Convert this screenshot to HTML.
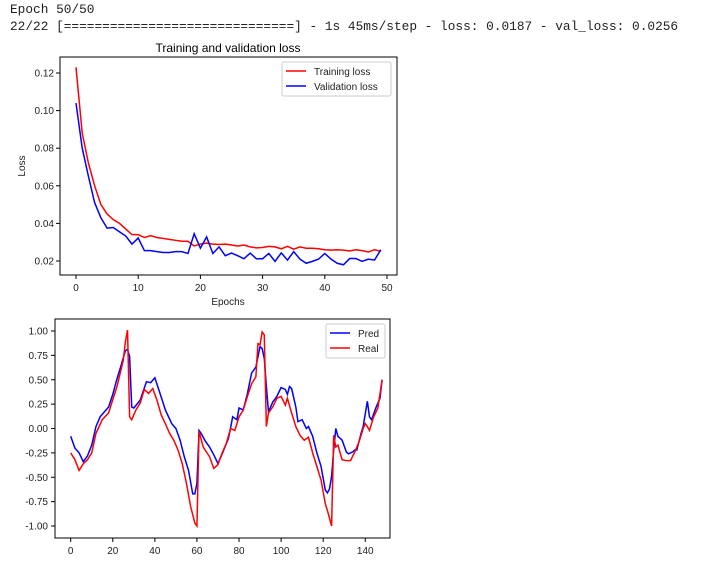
<!DOCTYPE html>
<html><head><meta charset="utf-8"><style>
body{margin:0;width:701px;height:563px;background:#fff;overflow:hidden;font-family:"Liberation Sans",sans-serif}
.log{position:absolute;left:10px;font-family:"Liberation Mono",monospace;font-size:12.8px;color:#222;white-space:pre}
</style></head><body>
<div class="log" style="top:2px">Epoch 50/50</div>
<div class="log" style="top:19px">22/22 [==============================] - 1s 45ms/step - loss: 0.0187 - val_loss: 0.0256</div>
<svg id="s" width="701" height="563" style="position:absolute;left:0;top:0"></svg>
<script>
const epochs=[...Array(50).keys()];
const trainLoss=[0.123,0.088,0.072,0.060,0.050,0.045,0.042,0.040,0.037,0.034,0.034,0.0325,0.0335,0.0325,0.032,0.0315,0.031,0.0305,0.0305,0.028,0.029,0.0295,0.029,0.0288,0.029,0.0285,0.028,0.0285,0.0275,0.027,0.0272,0.0278,0.0275,0.0265,0.0278,0.0263,0.0275,0.0268,0.0268,0.0265,0.026,0.0258,0.026,0.0258,0.0253,0.026,0.0255,0.0248,0.026,0.0252];
const valLoss=[0.104,0.080,0.065,0.051,0.043,0.0375,0.0378,0.0355,0.0333,0.029,0.0322,0.0255,0.0255,0.025,0.0245,0.0245,0.025,0.025,0.024,0.0345,0.0268,0.0328,0.024,0.0275,0.0228,0.0242,0.0228,0.0212,0.0242,0.0212,0.0212,0.024,0.0198,0.0243,0.0205,0.025,0.021,0.0188,0.0198,0.021,0.024,0.021,0.0188,0.018,0.0213,0.0213,0.0198,0.021,0.0205,0.026];
const topXTicks=[0,10,20,30,40,50];
const topYTicks=[0.02,0.04,0.06,0.08,0.10,0.12];
const predX=[0,2,4,6,8,10,12,14,16,18,20,22,24,26,27,28,29,30,33,36,38,40,42,45,48,50,52,54,56,58,59,60,61,62,64,66,68,70,72,75,77,79,80,82,84,86,88,90,91,92,93,94,96,98,100,102,103,104,105,107,108,110,112,113,115,117,119,121,122,123,124,125,126,127,129,131,132,134,135,136,138,139,141,142,143,145,147,148];
const predY=[-0.08,-0.2,-0.25,-0.34,-0.28,-0.17,0.02,0.12,0.17,0.22,0.35,0.51,0.65,0.8,0.81,0.74,0.22,0.21,0.29,0.48,0.47,0.52,0.39,0.19,0.05,0.0,-0.12,-0.29,-0.43,-0.67,-0.67,-0.56,-0.02,-0.05,-0.13,-0.19,-0.27,-0.36,-0.26,-0.1,0.12,0.09,0.21,0.19,0.36,0.57,0.63,0.84,0.82,0.72,0.43,0.17,0.27,0.33,0.42,0.4,0.35,0.43,0.41,0.22,0.07,0.09,0.0,0.02,-0.08,-0.25,-0.39,-0.63,-0.66,-0.62,-0.49,-0.22,0.0,-0.08,-0.12,-0.24,-0.26,-0.24,-0.22,-0.22,-0.05,0.02,0.28,0.12,0.09,0.21,0.31,0.5];
const realX=[0,2,4,6,8,10,12,15,18,22,25,26,27,28,29,31,33,35,37,39,41,43,45,47,49,51,53,55,57,59,60,61,63,66,68,70,72,74,76,78,80,82,84,86,88,89,90,91,92,93,94,96,98,100,102,103,105,107,109,111,113,115,117,119,121,122,124,125,126,127,129,131,133,135,137,139,140,141,142,144,146,148];
const realY=[-0.25,-0.32,-0.43,-0.36,-0.32,-0.25,-0.05,0.09,0.16,0.43,0.7,0.89,1.01,0.12,0.09,0.19,0.26,0.4,0.36,0.41,0.29,0.14,0.05,-0.05,-0.12,-0.22,-0.36,-0.56,-0.8,-0.97,-1.0,-0.03,-0.19,-0.29,-0.41,-0.37,-0.25,-0.15,0.0,-0.02,0.12,0.19,0.33,0.46,0.53,0.87,0.86,0.99,0.96,0.02,0.16,0.22,0.31,0.33,0.24,0.31,0.16,0.02,-0.07,-0.12,-0.09,-0.25,-0.39,-0.53,-0.77,-0.84,-1.0,-0.07,-0.19,-0.17,-0.32,-0.33,-0.33,-0.24,-0.14,0.0,0.05,0.02,-0.02,0.12,0.21,0.5];
const botXTicks=[0,20,40,60,80,100,120,140];
const botYTicks=[-1.0,-0.75,-0.5,-0.25,0.0,0.25,0.5,0.75,1.0];

const S=document.getElementById('s');const NS='http://www.w3.org/2000/svg';
function el(t,a,txt){const e=document.createElementNS(NS,t);for(const k in a)e.setAttribute(k,a[k]);if(txt!==undefined)e.textContent=txt;S.appendChild(e);return e;}
const tx=v=>76+v*6.22, ty=v=>261-(v-0.02)*1880;
let e=el('rect',{x:60,y:57,width:337,height:218,fill:'none',stroke:'#000','stroke-width':1});

topXTicks.forEach(v=>{el('line',{x1:tx(v),x2:tx(v),y1:275,y2:279,stroke:'#000'});
 e=el('text',{x:tx(v),y:291,'text-anchor':'middle','font-size':10,fill:'#222'},v);
 });
topYTicks.forEach(v=>{el('line',{x1:56,x2:60,y1:ty(v),y2:ty(v),stroke:'#000'});
 e=el('text',{x:54,y:ty(v)+3.5,'text-anchor':'end','font-size':10,fill:'#222'},v.toFixed(2));
 });
e=el('text',{x:228,y:52,'text-anchor':'middle','font-size':12,fill:'#000'},'Training and validation loss');

e=el('text',{x:228,y:305,'text-anchor':'middle','font-size':10,fill:'#222'},'Epochs');

e=el('text',{x:25,y:166,'text-anchor':'middle','font-size':10,fill:'#222',transform:'rotate(-90 25 166)'},'Loss');

e=el('polyline',{points:epochs.map((x,i)=>tx(x)+','+ty(trainLoss[i])).join(' '),fill:'none',stroke:'#f00','stroke-width':1.5});

e=el('polyline',{points:epochs.map((x,i)=>tx(x)+','+ty(valLoss[i])).join(' '),fill:'none',stroke:'#00f','stroke-width':1.5});

e=el('rect',{x:282,y:62,width:109,height:34,fill:'#fff',stroke:'#ccc',rx:2});

el('line',{x1:286,x2:306,y1:71,y2:71,stroke:'#f00','stroke-width':1.5});
e=el('text',{x:314,y:75,'font-size':10,fill:'#222'},'Training loss');

el('line',{x1:286,x2:306,y1:86,y2:86,stroke:'#00f','stroke-width':1.5});
e=el('text',{x:314,y:90,'font-size':10,fill:'#222'},'Validation loss');

const bx=v=>70.7+v*2.104, by=v=>428.5-v*97.5;
e=el('rect',{x:55,y:319,width:335,height:219,fill:'none',stroke:'#000','stroke-width':1});

botXTicks.forEach(v=>{el('line',{x1:bx(v),x2:bx(v),y1:538,y2:542,stroke:'#000'});
 e=el('text',{x:bx(v),y:554,'text-anchor':'middle','font-size':10,fill:'#222'},v);
 });
botYTicks.forEach(v=>{el('line',{x1:51,x2:55,y1:by(v),y2:by(v),stroke:'#000'});
 e=el('text',{x:48,y:by(v)+3.5,'text-anchor':'end','font-size':10,fill:'#222'},v.toFixed(2));
 });
e=el('polyline',{points:predX.map((x,i)=>bx(x)+','+by(predY[i])).join(' '),fill:'none',stroke:'#00f','stroke-width':1.5});

e=el('polyline',{points:realX.map((x,i)=>bx(x)+','+by(realY[i])).join(' '),fill:'none',stroke:'#f00','stroke-width':1.5});

e=el('rect',{x:326,y:324,width:59,height:34,fill:'#fff',stroke:'#ccc',rx:2});

el('line',{x1:330,x2:350,y1:333,y2:333,stroke:'#00f','stroke-width':1.5});
e=el('text',{x:358,y:337,'font-size':10,fill:'#222'},'Pred');

el('line',{x1:330,x2:350,y1:348,y2:348,stroke:'#f00','stroke-width':1.5});
e=el('text',{x:358,y:352,'font-size':10,fill:'#222'},'Real');

</script>
</body></html>
